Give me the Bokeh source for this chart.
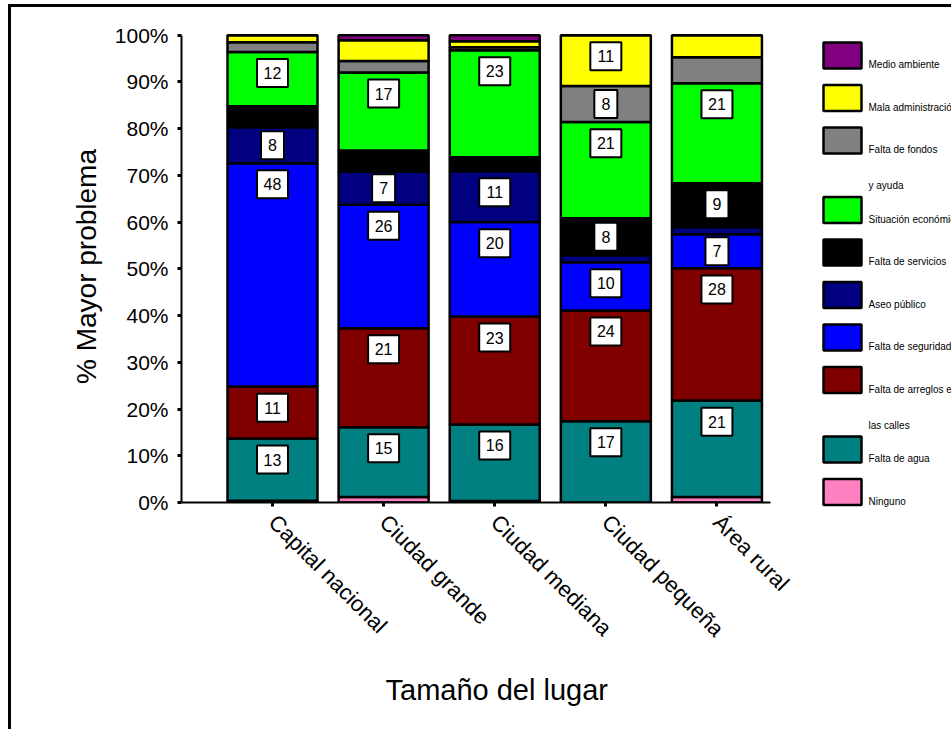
import math
from bokeh.plotting import figure
from bokeh.models import Range1d, FixedTicker, ColumnDataSource, Title
from bokeh.layouts import row, column
from bokeh.embed import file_html
from bokeh.resources import INLINE
from bokeh.core.properties import value

# ---------------- data ----------------
categories = ["Capital nacional", "Ciudad grande", "Ciudad mediana", "Ciudad pequeña", "Área rural"]

# stacked from bottom to top
series_names = ["Ninguno", "Falta de agua", "Falta de arreglos en las calles",
                "Falta de seguridad", "Aseo público", "Falta de servicios",
                "Situación económica", "Falta de fondos y ayuda",
                "Mala administración", "Medio ambiente"]
legend_lines = [["Ninguno"], ["Falta de agua"], ["Falta de arreglos en", "las calles"],
                ["Falta de seguridad"], ["Aseo público"], ["Falta de servicios"],
                ["Situación económica"], ["Falta de fondos", "y ayuda"],
                ["Mala administración"], ["Medio ambiente"]]

ninguno = [0.4, 1.2, 0.3, 0.0, 1.2]
falta_agua = [13.3, 14.9, 16.4, 17.4, 20.6]
falta_arreglos = [11.1, 21.2, 23.1, 23.7, 28.3]
falta_seguridad = [47.8, 26.4, 20.2, 10.3, 7.3]
aseo_publico = [7.7, 7.1, 10.9, 1.5, 1.5]
falta_servicios = [4.5, 4.5, 3.0, 7.9, 9.4]
situacion_economica = [11.6, 16.7, 22.9, 20.6, 21.4]
falta_fondos = [2.1, 2.5, 0.6, 7.7, 5.6]
mala_administracion = [1.5, 4.4, 1.3, 10.9, 4.7]
medio_ambiente = [0.0, 1.1, 1.3, 0.0, 0.0]

series_values = [ninguno, falta_agua, falta_arreglos, falta_seguridad, aseo_publico,
                 falta_servicios, situacion_economica, falta_fondos,
                 mala_administracion, medio_ambiente]

colors = ["#FF80C0", "#008080", "#800000", "#0000FF", "#000080",
          "#000000", "#00FF00", "#808080", "#FFFF00", "#800080"]

y_ticks = [0, 10, 20, 30, 40, 50, 60, 70, 80, 90, 100]
y_tick_labels = ["0%", "10%", "20%", "30%", "40%", "50%", "60%", "70%", "80%", "90%", "100%"]

x_title = "Tamaño del lugar"
y_title = "% Mayor problema"

FONT = "Liberation Sans"

# ---------------- main figure ----------------
p = figure(width=802, height=722, output_backend="svg", toolbar_location=None,
           x_range=Range1d(-0.819, 4.482), y_range=Range1d(0, 101),
           min_border_left=170, min_border_right=43, min_border_top=23, min_border_bottom=227)
p.outline_line_color = None
p.xgrid.visible = False
p.ygrid.visible = False
p.background_fill_color = "white"
p.border_fill_color = "white"

xs = list(range(len(categories)))
bottoms = [0.0] * len(categories)
lab_x, lab_y, lab_t, lab_w = [], [], [], []
for name, vals, col in zip(series_names, series_values, colors):
    tops = [b + v for b, v in zip(bottoms, vals)]
    src = ColumnDataSource(dict(x=xs, bottom=bottoms, top=tops))
    p.vbar(x="x", bottom="bottom", top="top", width=0.81, source=src,
           fill_color=col, line_color="black", line_width=2.5)
    for i, v in enumerate(vals):
        if round(v) >= 7:
            lab_x.append(i)
            lab_y.append(tops[i] - min(v / 2.0, 4.5))
            t = str(round(v))
            lab_t.append(t)
            lab_w.append(31 if len(t) > 1 else 23)
    bottoms = tops

lsrc = ColumnDataSource(dict(x=lab_x, y=lab_y, text=lab_t, w=lab_w))
p.rect(x="x", y="y", width="w", height=28, width_units="screen", height_units="screen",
       source=lsrc, fill_color="white", line_color="black", line_width=2)
p.text(x="x", y="y", text="text", source=lsrc, text_align="center", text_baseline="middle",
       text_font=value(FONT), text_font_size="16px", text_color="black")

# axes
xa = p.xaxis[0]
xa.ticker = FixedTicker(ticks=xs)
xa.major_label_overrides = {i: c for i, c in enumerate(categories)}
xa.major_label_orientation = -math.pi / 4
xa.major_label_text_font = FONT
xa.major_label_text_font_size = "22px"
xa.major_label_standoff = 12
xa.minor_tick_line_color = None

# x axis title, offset to the right as in the reference
p.add_layout(Title(text=x_title, align="left", offset=204, standoff=37,
                   text_font=FONT, text_font_size="29px", text_font_style="normal",
                   text_color="black"), "below")

ya = p.yaxis[0]
ya.ticker = FixedTicker(ticks=y_ticks)
ya.major_label_overrides = {t: l for t, l in zip(y_ticks, y_tick_labels)}
ya.bounds = (0, 100)
ya.major_label_text_font = FONT
ya.major_label_text_font_size = "21px"
ya.major_label_standoff = 9
ya.axis_label = y_title
ya.axis_label_text_font = FONT
ya.axis_label_text_font_size = "28px"
ya.axis_label_text_font_style = "normal"
ya.axis_label_standoff = 10
ya.minor_tick_line_color = None

for ax in (xa, ya):
    ax.axis_line_width = 2
    ax.axis_line_color = "black"
    ax.major_tick_line_width = 3
    ax.major_tick_line_color = "black"
    ax.major_tick_out = 4
    ax.major_tick_in = 0
    ax.major_label_text_color = "black"
    ax.axis_label_text_color = "black"

# ---------------- legend figure (page-like coordinates) ----------------
LW, LH = 138, 722
leg = figure(width=LW, height=LH, output_backend="svg", toolbar_location=None,
             x_range=Range1d(0, LW), y_range=Range1d(LH, 0),
             x_axis_type=None, y_axis_type=None,
             min_border_left=0, min_border_right=0, min_border_top=0, min_border_bottom=0)
leg.outline_line_color = None
leg.xgrid.visible = False
leg.ygrid.visible = False
leg.border_fill_color = "white"

box_left, box_w, box_h = 10, 38, 26
first_top, step, extra_line = 35, 42.5, 27
q_l, q_r, q_t, q_b, q_c = [], [], [], [], []
t_x, t_y, t_t = [], [], []
extra = 0
order = list(range(len(series_names)))[::-1]
for k, si in enumerate(order):
    top = first_top + step * k + extra_line * extra
    q_l.append(box_left); q_r.append(box_left + box_w)
    q_t.append(top); q_b.append(top + box_h); q_c.append(colors[si])
    for j, line in enumerate(legend_lines[si]):
        t_x.append(box_left + box_w + 7)
        t_y.append(top + box_h - 4 + 36 * j)
        t_t.append(line)
    extra += len(legend_lines[si]) - 1

leg.quad(left=q_l, right=q_r, top=q_t, bottom=q_b, fill_color=q_c,
         line_color="black", line_width=2.5)
leg.text(x=t_x, y=t_y, text=t_t, text_align="left", text_baseline="middle",
         text_font=value(FONT), text_font_size="10px", text_color="black")

layout = row(p, column(leg), styles={"border-top": "3px solid black", "border-left": "3px solid black",
                                     "margin-left": "8px", "margin-top": "4px"})

open("out.html", "w").write(file_html(layout, INLINE))
